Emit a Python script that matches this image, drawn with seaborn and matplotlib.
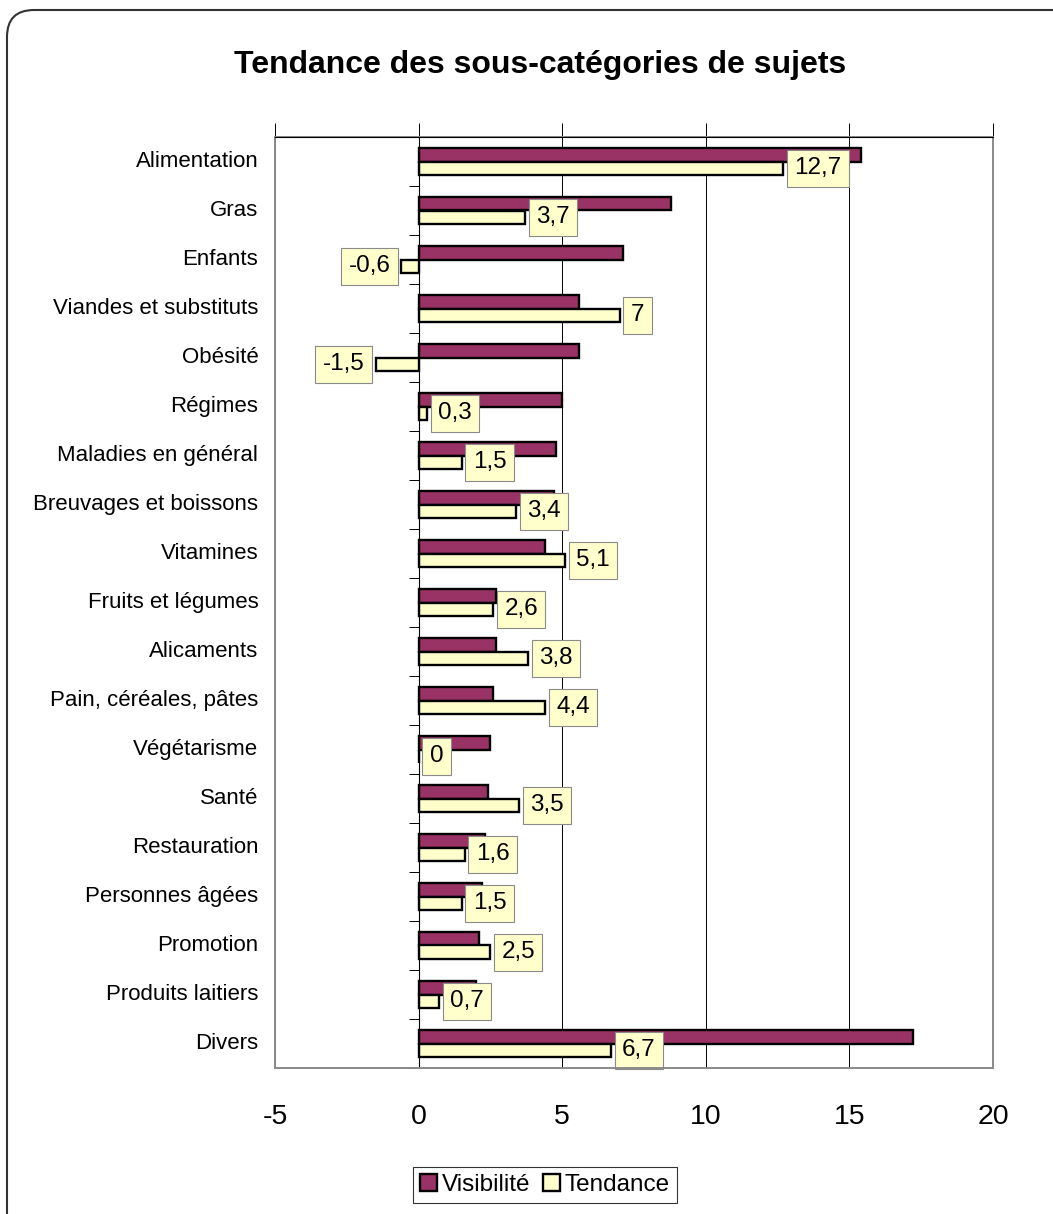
import matplotlib
matplotlib.use("Agg")
import matplotlib.pyplot as plt
import pandas as pd
import seaborn as sns
from matplotlib.patches import FancyBboxPatch, Rectangle

categories = [
    "Alimentation", "Gras", "Enfants", "Viandes et substituts", "Obésité",
    "Régimes", "Maladies en général", "Breuvages et boissons", "Vitamines",
    "Fruits et légumes", "Alicaments", "Pain, céréales, pâtes", "Végétarisme",
    "Santé", "Restauration", "Personnes âgées", "Promotion",
    "Produits laitiers", "Divers",
]
visibilite = [15.4, 8.8, 7.1, 5.6, 5.6, 5.0, 4.8, 4.7, 4.4, 2.7, 2.7, 2.6,
              2.5, 2.4, 2.3, 2.2, 2.1, 2.0, 17.2]
tendance = [12.7, 3.7, -0.6, 7, -1.5, 0.3, 1.5, 3.4, 5.1, 2.6, 3.8, 4.4,
            0, 3.5, 1.6, 1.5, 2.5, 0.7, 6.7]
series = ["Visibilité", "Tendance"]
x_ticks = [-5, 0, 5, 10, 15, 20]
title = "Tendance des sous-catégories de sujets"

sns.set_theme(style="white")
plt.rcParams["font.family"] = ["Liberation Sans", "DejaVu Sans"]
plt.rcParams["axes.unicode_minus"] = False
plt.rcParams["text.color"] = "black"
plt.rcParams["xtick.color"] = "black"
plt.rcParams["ytick.color"] = "black"

n = len(categories)
df = pd.DataFrame({
    "Sujet": categories * 2,
    "Valeur": visibilite + tendance,
    "Série": [series[0]] * n + [series[1]] * n,
})

W, H = 1053, 1214
fig = plt.figure(figsize=(W / 100, H / 100), dpi=100)

# rounded outer frame (only top/left visible)
frame = FancyBboxPatch((0.07, -1.0), 12.0, 13.04, boxstyle="round,pad=0,rounding_size=0.27",
                       transform=fig.dpi_scale_trans, fill=False, edgecolor="#333333", lw=1.5)
fig.patches.append(frame)

ax = fig.add_axes([275 / W, 1 - 1068 / H, (993 - 275) / W, (1068 - 137) / H])
sns.barplot(data=df, y="Sujet", x="Valeur", hue="Série", orient="h",
            palette=["#993366", "#ffffcc"], saturation=1, width=0.57,
            edgecolor="black", linewidth=1.7, errorbar=None, ax=ax)

handles, labels = ax.get_legend_handles_labels()
ax.get_legend().remove()

ax.set_xlim(-5, 20)
ax.set_xticks(x_ticks)
ax.set_xticklabels([str(t) for t in x_ticks])
ax.xaxis.grid(True, color="black", lw=0.7)
ax.set_axisbelow(True)
ax.tick_params(axis="x", top=True, bottom=False, labeltop=False, labelbottom=True,
               direction="out", length=10, width=0.7, color="black", labelsize=20.5, pad=16)

ax.set_yticks([i - 0.5 for i in range(n + 1)])
ax.set_yticklabels([])
ax.set_ylim(n - 0.5, -0.5)
ax.tick_params(axis="y", left=True, direction="out", length=7, width=0.7, color="black")
ax.set_xlabel("")
ax.set_ylabel("")

ax.spines["left"].set_position(("data", 0))
ax.spines["left"].set_color("black")
ax.spines["left"].set_linewidth(0.8)
ax.spines["right"].set_visible(False)
ax.spines["bottom"].set_visible(False)
ax.spines["top"].set_color("black")
ax.spines["top"].set_linewidth(0.8)
ax.spines["top"].set_zorder(6)

ax.add_patch(Rectangle((0, 0), 1, 1, transform=ax.transAxes, fill=False,
                       edgecolor="#8a8a8a", lw=1.4, clip_on=False, zorder=5))

for i, c in enumerate(categories):
    ax.annotate(c, xy=(0, i), xycoords=("axes fraction", "data"), xytext=(-12, 0),
                textcoords="offset points", ha="right", va="center", fontsize=16)

ax.bar_label(ax.containers[1], labels=[f"{v:g}".replace(".", ",") for v in tendance],
             padding=8, fontsize=17.5,
             bbox=dict(boxstyle="square,pad=0.3", fc="#ffffcc", ec="#8a8a8a", lw=0.8))

fig.text(540 / W, 1 - 65 / H, title, ha="center", va="center", fontsize=23, fontweight="bold")

leg = fig.legend(handles, labels, loc="center", bbox_to_anchor=(545 / W, 1 - 1185 / H),
                 ncol=2, frameon=True, fancybox=False, edgecolor="black", fontsize=17.5,
                 handlelength=0.7, handleheight=0.7, handletextpad=0.2, columnspacing=0.5,
                 borderpad=0.3, borderaxespad=0)
leg.get_frame().set_linewidth(0.8)

fig.savefig("out.png", dpi=100)
